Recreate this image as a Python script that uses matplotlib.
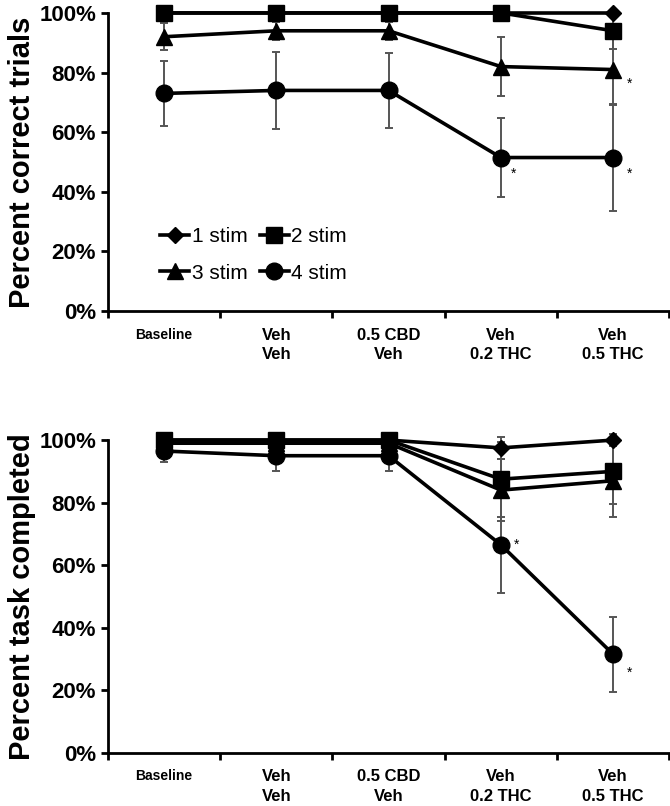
import numpy as np
import matplotlib.pyplot as plt
from matplotlib.lines import Line2D

plt.rcParams['font.family'] = ['Liberation Sans', 'DejaVu Sans']
plt.rcParams['font.weight'] = 'bold'

categories = ["Baseline", "Veh\nVeh", "0.5 CBD\nVeh", "Veh\n0.2 THC", "Veh\n0.5 THC"]
series_names = ["1 stim", "2 stim", "3 stim", "4 stim"]
markers = ["D", "s", "^", "o"]
msizes = [8, 11, 11, 12]

# percent correct trials (mean, error)
correct_1 = [100, 100, 100, 100, 100]
correct_1_err = [0, 0, 0, 0, 0]
correct_2 = [100, 100, 100, 100, 94]
correct_2_err = [0, 0, 0, 0, 6]
correct_3 = [92, 94, 94, 82, 81]
correct_3_err = [4.5, 3, 3, 10, 12]
correct_4 = [73, 74, 74, 51.5, 51.5]
correct_4_err = [11, 13, 12.6, 13.3, 18]

# percent task completed (mean, error)
completed_1 = [100, 100, 100, 97.5, 100]
completed_1_err = [0, 0, 0, 3.5, 2]
completed_2 = [100, 100, 100, 87.5, 90]
completed_2_err = [1, 1, 1, 12, 10.5]
completed_3 = [99, 99, 99, 84, 87]
completed_3_err = [1, 1, 1, 10, 11.5]
completed_4 = [96.5, 95, 95, 66.5, 31.5]
completed_4_err = [3.5, 5, 5, 15.5, 12]

# significance stars: (series index, category index)
correct_stars = [(2, 4), (3, 3), (3, 4)]
completed_stars = [(3, 3), (3, 4)]
correct_star_offsets = [(12, -10), (9, -12), (12, -12)]
completed_star_offsets = [(11, 0), (12, -13)]

fig = plt.figure(figsize=(6.7, 8.06), dpi=100)
ax1 = fig.add_axes([0.161, 0.614, 0.838, 0.370])
ax2 = fig.add_axes([0.161, 0.066, 0.838, 0.388])

x = np.arange(len(categories))


def draw(ax, means, errs, stars, offsets, ylabel):
    for i in range(4):
        ax.errorbar(x, means[i], yerr=errs[i], color='black', ecolor='#555555',
                    elinewidth=1.4, capsize=3, capthick=1.4, lw=2.6,
                    marker=markers[i], ms=msizes[i], clip_on=False, zorder=3)
    for (s, c), off in zip(stars, offsets):
        ax.annotate('*', (x[c], means[s][c]), xytext=off, textcoords='offset points',
                    ha='center', va='center', fontsize=10, fontweight='normal')
    ax.set_xlim(-0.5, 4.5)
    ax.set_ylim(0, 100)
    ax.set_yticks(np.arange(0, 101, 20))
    ax.set_yticklabels([f"{v}%" for v in range(0, 101, 20)], fontsize=16, fontweight='bold')
    ax.set_xticks(np.arange(-0.5, 4.6, 1))
    ax.set_xticklabels([])
    for i, lab in enumerate(categories):
        fs = 10 if i == 0 else 12
        ax.annotate(lab, (x[i], 0), xycoords=('data', 'axes fraction'),
                    xytext=(0, -12), textcoords='offset points', ha='center',
                    va='top', fontsize=fs, fontweight='bold', linespacing=1.35)
    for sp in ['top', 'right']:
        ax.spines[sp].set_visible(False)
    for sp in ['left', 'bottom']:
        ax.spines[sp].set_linewidth(2)
    ax.tick_params(axis='both', direction='out', width=2, length=5)
    ax.set_ylabel(ylabel, fontsize=21, fontweight='bold', labelpad=2)


draw(ax1, [correct_1, correct_2, correct_3, correct_4],
     [correct_1_err, correct_2_err, correct_3_err, correct_4_err],
     correct_stars, correct_star_offsets, "Percent correct trials")
draw(ax2, [completed_1, completed_2, completed_3, completed_4],
     [completed_1_err, completed_2_err, completed_3_err, completed_4_err],
     completed_stars, completed_star_offsets, "Percent task completed")

handles = [Line2D([], [], color='black', lw=2.6, marker=m, ms=s) for m, s in zip(markers, msizes)]
order = [0, 2, 1, 3]
ax1.legend([handles[i] for i in order], [series_names[i] for i in order],
           loc='upper left', bbox_to_anchor=(0.06, 0.345), ncol=2, frameon=False,
           handlelength=1.4, handletextpad=0.1, columnspacing=0.6,
           labelspacing=0.85, prop={'size': 15, 'weight': 'normal'})

fig.savefig('out.png', dpi=100)
